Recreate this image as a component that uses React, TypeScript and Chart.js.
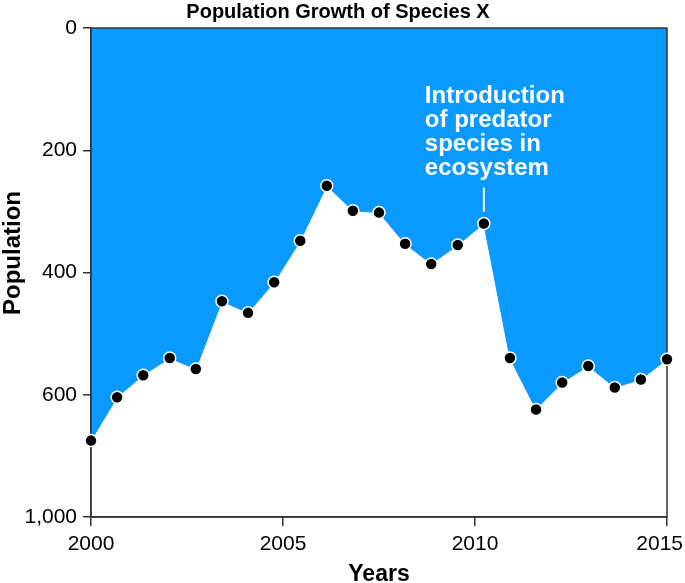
import React, { useEffect, useRef } from "react";
import { Chart, registerables } from "chart.js";

Chart.register(...registerables);

const chartTitle = "Population Growth of Species X";
const xAxisTitle = "Years";
const yAxisTitle = "Population";

const years = [
  2000, 2000.68, 2001.36, 2002.05, 2002.73, 2003.41, 2004.09, 2004.77,
  2005.45, 2006.14, 2006.82, 2007.5, 2008.18, 2008.86, 2009.55, 2010.23,
  2010.91, 2011.59, 2012.27, 2012.95, 2013.64, 2014.32, 2015,
];
const population = [
  675, 604, 568, 540, 558, 447, 466, 416, 348, 258, 299, 302, 353, 386, 355,
  320, 540, 624, 580, 553, 588, 575, 542,
];

const xTickValues = [2000, 2005, 2010, 2015];
const xTickLabels = ["2000", "2005", "2010", "2015"];
const yTickValues = [0, 200, 400, 600, 800];
const yTickLabels = ["0", "200", "400", "600", "1,000"];

const annotationIndex = 15;
const annotationLines = ["Introduction", "of predator", "species in", "ecosystem"];

const FONT = "'Liberation Sans', Arial, Helvetica, sans-serif";
const FILL = "#0a99ff";
const AXIS = "#333333";

export default function App() {
  const ref = useRef<HTMLCanvasElement | null>(null);

  useEffect(() => {
    if (!ref.current) return;

    const overlay = {
      id: "overlay",
      beforeDatasetDraw(chart: any) {
        const { ctx, chartArea: a } = chart;
        ctx.save();
        ctx.strokeStyle = AXIS;
        ctx.lineWidth = 1.5;
        ctx.strokeRect(a.left, a.top, a.right - a.left, a.bottom - a.top);
        ctx.restore();
      },
      afterDraw(chart: any) {
        const { ctx, chartArea: a, width } = chart;
        const xs = chart.scales.x;
        ctx.save();
        ctx.fillStyle = "#000";
        // title
        ctx.font = `bold 20px ${FONT}`;
        ctx.textAlign = "center";
        ctx.textBaseline = "alphabetic";
        ctx.fillText(chartTitle, 338, 18);
        // x tick labels
        ctx.font = `21px ${FONT}`;
        xTickValues.forEach((v, i) => {
          const t = xTickLabels[i];
          const w = ctx.measureText(t).width;
          let px = xs.getPixelForValue(v);
          px = Math.min(px, width - 2 - w / 2);
          ctx.fillText(t, px, 550);
        });
        // x title
        ctx.font = `bold 23px ${FONT}`;
        ctx.fillText(xAxisTitle, (a.left + a.right) / 2, 581);
        // y title
        ctx.font = `bold 24px ${FONT}`;
        ctx.save();
        ctx.translate(20, 253);
        ctx.rotate(-Math.PI / 2);
        ctx.fillText(yAxisTitle, 0, 0);
        ctx.restore();
        ctx.restore();
      },
      afterDatasetsDraw(chart: any) {
        const { ctx } = chart;
        const pt = chart.getDatasetMeta(0).data[annotationIndex];
        if (!pt) return;
        const px = pt.x;
        const py = pt.y;
        ctx.save();
        ctx.strokeStyle = "#fff";
        ctx.lineWidth = 2;
        ctx.beginPath();
        ctx.moveTo(px, py - 36);
        ctx.lineTo(px, py - 12);
        ctx.stroke();
        ctx.fillStyle = "#fff";
        ctx.font = `bold 24px ${FONT}`;
        ctx.textAlign = "left";
        ctx.textBaseline = "alphabetic";
        annotationLines.forEach((l, i) => {
          ctx.fillText(l, px - 59, py - 121 + i * 24);
        });
        ctx.restore();
      },
    };

    const chart = new Chart(ref.current, {
      type: "line",
      data: {
        datasets: [
          {
            data: years.map((x, i) => ({ x, y: population[i] })),
            borderColor: FILL,
            borderWidth: 1,
            backgroundColor: FILL,
            fill: { value: 0 },
            tension: 0,
            pointRadius: 6,
            pointBackgroundColor: "#000",
            pointBorderColor: "#fff",
            pointBorderWidth: 1.5,
            clip: false,
          } as any,
        ],
      },
      options: {
        animation: false,
        responsive: true,
        maintainAspectRatio: false,
        layout: { padding: { top: 28, right: 18, left: 0, bottom: 0 } },
        plugins: {
          legend: { display: false },
          title: { display: false },
          tooltip: { enabled: false },
        },
        scales: {
          x: {
            type: "linear",
            min: 2000,
            max: 2015,
            afterBuildTicks: (s: any) => {
              s.ticks = xTickValues.map((v) => ({ value: v }));
            },
            afterFit: (s: any) => {
              s.height = 66;
            },
            ticks: { display: false },
            grid: {
              display: true,
              drawOnChartArea: false,
              drawTicks: true,
              tickLength: 9,
              color: AXIS,
              lineWidth: 1.5,
            },
            border: { display: true, color: AXIS, width: 1.5 },
          },
          y: {
            type: "linear",
            min: 0,
            max: 800,
            reverse: true,
            afterBuildTicks: (s: any) => {
              s.ticks = yTickValues.map((v) => ({ value: v }));
            },
            afterFit: (s: any) => {
              s.width = 91;
            },
            ticks: {
              padding: 6,
              color: "#000",
              font: { family: FONT, size: 21 },
              callback: (v: any) => {
                const i = yTickValues.indexOf(Number(v));
                return i >= 0 ? yTickLabels[i] : "";
              },
            },
            grid: {
              display: true,
              drawOnChartArea: false,
              drawTicks: true,
              tickLength: 8,
              color: AXIS,
              lineWidth: 1.5,
            },
            border: { display: true, color: AXIS, width: 1.5 },
          },
        },
      },
      plugins: [overlay],
    });

    return () => chart.destroy();
  }, []);

  return (
    <div
      style={{
        position: "fixed",
        left: 0,
        top: 0,
        width: 685,
        height: 583,
        background: "#fff",
      }}
    >
      <canvas ref={ref} />
    </div>
  );
}
